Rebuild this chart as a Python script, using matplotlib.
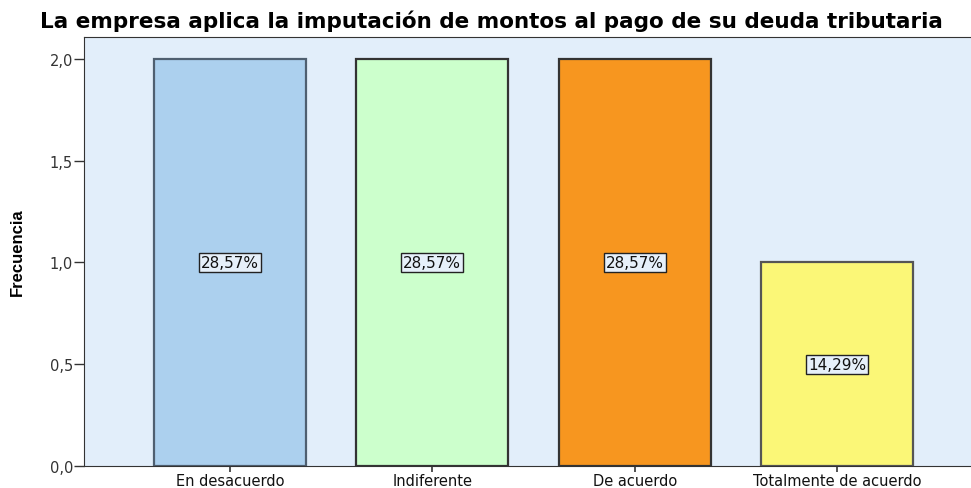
import matplotlib.pyplot as plt
import numpy as np

categorias = ["En desacuerdo", "Indiferente", "De acuerdo", "Totalmente de acuerdo"]
frecuencias = [2, 2, 2, 1]
porcentajes = ["28,57%", "28,57%", "28,57%", "14,29%"]
colores = ["#acd0ee", "#ccffcc", "#f7961f", "#fbf777"]
bordes = ["#4f5f70", "#333333", "#333333", "#555555"]
yticks = [0.0, 0.5, 1.0, 1.5, 2.0]

plt.rcParams["font.family"] = ["DejaVu Sans"]

fig = plt.figure(figsize=(9.71, 4.89), dpi=100)
ax = fig.add_axes([84 / 971, 1 - 467 / 489, (971 - 84) / 971, (467 - 38) / 489])
ax.set_facecolor("#e2eefa")

x = np.arange(len(categorias))
ax.bar(x, frecuencias, width=0.75, color=colores, edgecolor=bordes, linewidth=1.6, zorder=2)

for xi, f, p in zip(x, frecuencias, porcentajes):
    ax.text(xi, f / 2, p, ha="center", va="center", fontsize=11, color="#111111", zorder=3,
            bbox=dict(boxstyle="square,pad=0.12", facecolor="#e6f0fa", edgecolor="#222222", linewidth=1))

ax.set_xlim(-0.72, 3.66)
ax.set_ylim(0, 2.108)
ax.set_xticks(x)
ax.set_xticklabels(categorias, fontsize=10.5, color="#111111")
ax.set_yticks(yticks)
ax.set_yticklabels([("%.1f" % v).replace(".", ",") for v in yticks], fontsize=10.5, color="#333333")
ax.tick_params(axis="x", length=4, width=1.2, color="#333333", pad=1)
ax.tick_params(axis="y", length=7, width=1, color="#333333", pad=1)

for s in ["left", "bottom", "top"]:
    ax.spines[s].set_color("#333333")
ax.spines["right"].set_visible(False)

ax.set_ylabel("Frecuencia", fontsize=12, fontweight="bold",
              family=["Liberation Sans Narrow", "Liberation Sans"], labelpad=18)
fig.text(491 / 971, 1 - 21 / 489, "La empresa aplica la imputación de montos al pago de su deuda tributaria",
         ha="center", va="center", fontsize=15.5, fontweight="bold")

plt.savefig("out.png", dpi=100)
